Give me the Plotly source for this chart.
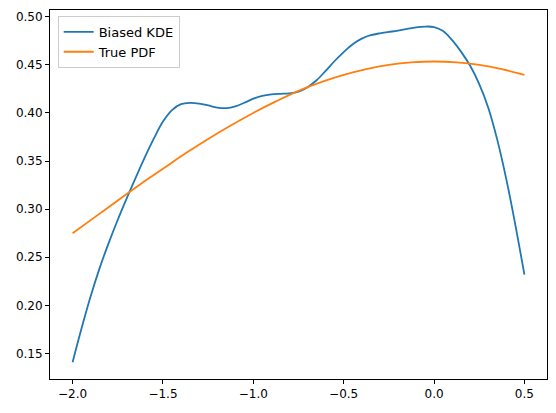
import plotly.graph_objects as go

# Biased KDE
kde_x = [-2.00, -1.95, -1.90, -1.85, -1.80, -1.75, -1.70, -1.65, -1.60, -1.55,
         -1.50, -1.45, -1.40, -1.35, -1.30, -1.25, -1.20, -1.15, -1.10, -1.05,
         -1.00, -0.95, -0.90, -0.85, -0.80, -0.75, -0.70, -0.65, -0.60, -0.55,
         -0.50, -0.45, -0.40, -0.35, -0.30, -0.25, -0.20, -0.15, -0.10, -0.05,
         0.00, 0.05, 0.10, 0.15, 0.20, 0.25, 0.30, 0.35, 0.40, 0.45, 0.50]
kde_y = [0.141, 0.1765, 0.2095, 0.239, 0.265, 0.289, 0.3115, 0.333, 0.354, 0.3735,
         0.391, 0.403, 0.4092, 0.4105, 0.4098, 0.4078, 0.4055, 0.4050, 0.4068, 0.4106,
         0.4148, 0.4178, 0.4193, 0.4199, 0.4204, 0.4222, 0.4268, 0.4340, 0.4437, 0.4540,
         0.4633, 0.4715, 0.4773, 0.4808, 0.4828, 0.4842, 0.4856, 0.4873, 0.4890, 0.4898,
         0.4893, 0.4852, 0.4757, 0.4635, 0.4490, 0.4300, 0.4055, 0.3720, 0.3310, 0.2835, 0.2320]

# True PDF
pdf_x = [-2.0, -1.875, -1.75, -1.625, -1.5, -1.375, -1.25, -1.125, -1.0, -0.875,
         -0.75, -0.625, -0.5, -0.375, -0.25, -0.125, 0.0, 0.125, 0.25, 0.375, 0.5]
pdf_y = [0.275, 0.292, 0.309, 0.326, 0.342, 0.358, 0.373, 0.387, 0.400, 0.412,
         0.423, 0.432, 0.4395, 0.4455, 0.450, 0.4526, 0.4535, 0.4526, 0.450, 0.4455, 0.4395]

x_ticks = [-2.0, -1.5, -1.0, -0.5, 0.0, 0.5]
y_ticks = [0.15, 0.20, 0.25, 0.30, 0.35, 0.40, 0.45, 0.50]

fig = go.Figure()
fig.add_trace(go.Scatter(x=kde_x, y=kde_y, mode="lines", name="Biased KDE",
                         line=dict(color="#1f77b4", width=1.8, shape="spline", smoothing=1.0)))
fig.add_trace(go.Scatter(x=pdf_x, y=pdf_y, mode="lines", name="True PDF",
                         line=dict(color="#ff7f0e", width=1.8, shape="spline", smoothing=1.0)))

axis_common = dict(showline=True, linecolor="black", linewidth=1, mirror=True,
                   ticks="outside", ticklen=4, tickwidth=1, tickcolor="black",
                   showgrid=False, zeroline=False,
                   tickfont=dict(family="DejaVu Sans", size=12, color="black"))

fig.update_layout(
    width=556, height=413,
    margin=dict(l=50, r=9, t=10, b=34),
    paper_bgcolor="white", plot_bgcolor="white",
    font=dict(family="DejaVu Sans", size=12, color="black"),
    xaxis=dict(range=[-2.125, 0.625], tickvals=x_ticks, tickformat=".1f", **axis_common),
    yaxis=dict(range=[0.1235, 0.507], tickvals=y_ticks, tickformat=".2f", **axis_common),
    legend=dict(x=0.0155, y=0.984, xanchor="left", yanchor="top",
                bordercolor="#cccccc", borderwidth=1, bgcolor="rgba(255,255,255,0.8)",
                font=dict(family="DejaVu Sans", size=13, color="black"),
                tracegroupgap=0),
    showlegend=True,
)

fig.write_html("out.html")
